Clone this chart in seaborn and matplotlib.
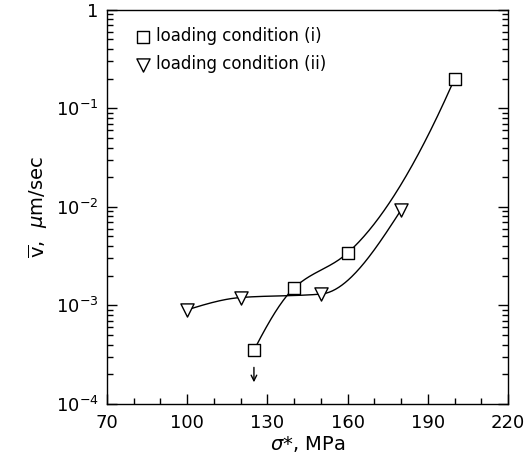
import numpy as np
import pandas as pd
import seaborn as sns
import matplotlib.pyplot as plt
from matplotlib.ticker import LogLocator, NullFormatter, FixedLocator, MultipleLocator

# data
stress_i = [125, 140, 160, 200]
vel_i = [3.5e-4, 1.5e-3, 3.4e-3, 0.2]
stress_ii = [100, 120, 150, 180]
vel_ii = [9.0e-4, 1.2e-3, 1.3e-3, 9.3e-3]
labels = ["loading condition (i)", "loading condition (ii)"]


def pchip(x, y, xs):
    """Shape preserving cubic through the points (used for the smooth guide line)."""
    x = np.asarray(x, float)
    y = np.asarray(y, float)
    h = np.diff(x)
    d = np.diff(y) / h
    n = len(x)
    m = np.zeros(n)
    for k in range(1, n - 1):
        if d[k - 1] * d[k] > 0:
            w1 = 2 * h[k] + h[k - 1]
            w2 = h[k] + 2 * h[k - 1]
            m[k] = (w1 + w2) / (w1 / d[k - 1] + w2 / d[k])
    m[0] = ((2 * h[0] + h[1]) * d[0] - h[0] * d[1]) / (h[0] + h[1])
    m[-1] = ((2 * h[-1] + h[-2]) * d[-1] - h[-1] * d[-2]) / (h[-1] + h[-2])
    idx = np.clip(np.searchsorted(x, xs) - 1, 0, n - 2)
    t = (xs - x[idx]) / h[idx]
    h00 = 2 * t**3 - 3 * t**2 + 1
    h10 = t**3 - 2 * t**2 + t
    h01 = -2 * t**3 + 3 * t**2
    h11 = t**3 - t**2
    return h00 * y[idx] + h10 * h[idx] * m[idx] + h01 * y[idx + 1] + h11 * h[idx] * m[idx + 1]


def smooth(x, y):
    xs = np.linspace(x[0], x[-1], 200)
    ys = 10 ** pchip(x, np.log10(y), xs)
    return pd.DataFrame({"x": xs, "y": ys})


sns.set_style("ticks")
plt.rcParams["font.family"] = ["DejaVu Sans"]
plt.rcParams["text.color"] = "black"
plt.rcParams["axes.labelcolor"] = "black"
plt.rcParams["xtick.color"] = "black"
plt.rcParams["ytick.color"] = "black"

fig = plt.figure(figsize=(5.26, 4.69), dpi=100)
ax = fig.add_axes([0.203, 0.139, 0.763, 0.840])

# smooth guide curves
for sx, sy in [(stress_i, vel_i), (stress_ii, vel_ii)]:
    sns.lineplot(data=smooth(sx, sy), x="x", y="y", ax=ax, color="black",
                 linewidth=1.0, estimator=None, sort=False)

# markers
sns.scatterplot(x=stress_i, y=vel_i, ax=ax, marker="s", s=70,
                facecolor="white", edgecolor="black", linewidth=1.0, zorder=3,
                label=labels[0])
sns.scatterplot(x=stress_ii, y=vel_ii, ax=ax, marker="v", s=90,
                facecolor="white", edgecolor="black", linewidth=1.0, zorder=3,
                label=labels[1])

# arrow below the lowest square (upper bound)
ax.annotate("", xy=(stress_i[0], 1.55e-4), xytext=(stress_i[0], 2.5e-4),
            arrowprops=dict(arrowstyle="->", color="black", lw=1.0))

ax.set_yscale("log")
ax.set_xlim(70, 220)
ax.set_ylim(1e-4, 1)
ax.xaxis.set_major_locator(FixedLocator([70, 100, 130, 160, 190, 220]))
ax.xaxis.set_minor_locator(MultipleLocator(10))
ax.yaxis.set_major_locator(LogLocator(base=10))
ax.yaxis.set_minor_locator(LogLocator(base=10, subs=np.arange(2, 10)))
ax.yaxis.set_minor_formatter(NullFormatter())
ax.set_yticks([1e-4, 1e-3, 1e-2, 1e-1, 1])
ax.set_yticklabels([r"$10^{-4}$", r"$10^{-3}$", r"$10^{-2}$", r"$10^{-1}$", "1"])

ax.tick_params(which="both", direction="in", right=True, top=False,
               labelsize=13, width=1.0)
ax.tick_params(which="major", length=7)
ax.tick_params(which="minor", length=4)
ax.tick_params(axis="x", pad=7)
ax.tick_params(axis="y", pad=6)
for sp in ax.spines.values():
    sp.set_linewidth(1.0)
    sp.set_color("black")

ax.set_xlabel(r"$\sigma$*, MPa", fontsize=14, labelpad=2)
ax.set_ylabel(r"$\overline{\mathrm{v}}$,  $\mu$m/sec", fontsize=14)

ax.legend(loc="upper left", frameon=False, fontsize=12, handletextpad=0.3,
          borderaxespad=0.3, labelspacing=0.6, handlelength=1.0,
          bbox_to_anchor=(0.04, 0.985))

fig.savefig("out.png", dpi=100)
